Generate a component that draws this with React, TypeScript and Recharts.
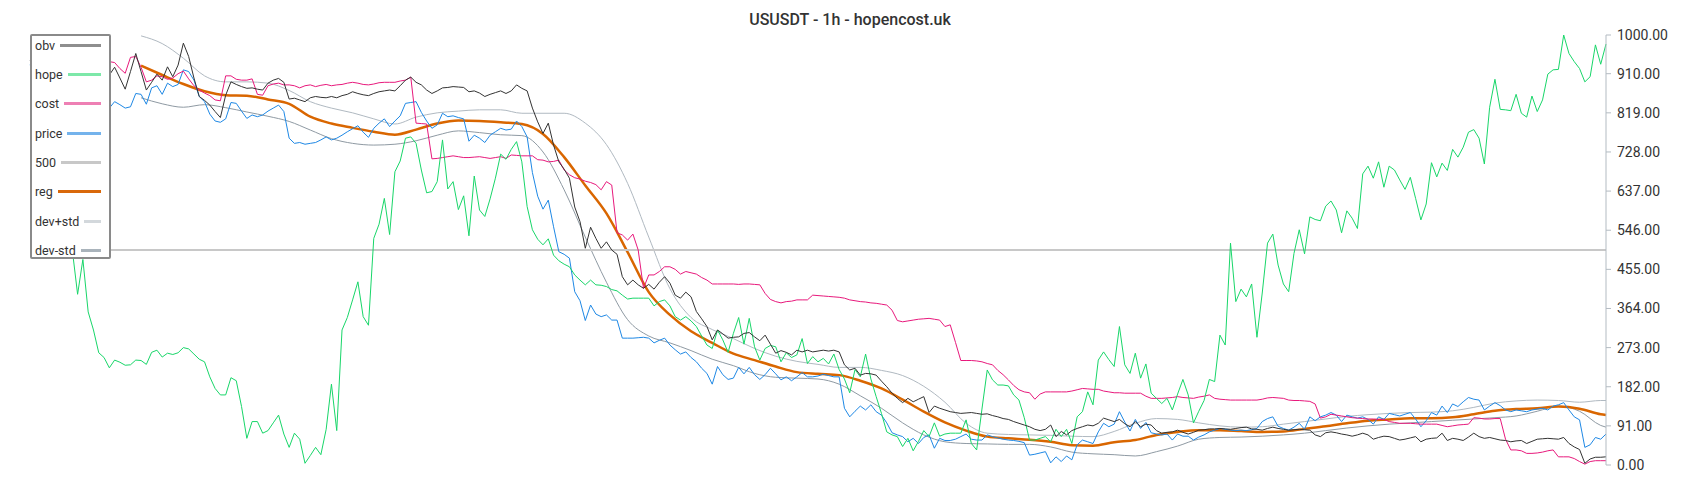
import { LineChart, Line, XAxis, YAxis, ReferenceLine } from 'recharts';

const TITLE = 'USUSDT - 1h - hopencost.uk';
const THRESHOLD = 500;
const yTicks = [0, 91, 182, 273, 364, 455, 546, 637, 728, 819, 910, 1000];

// one value per hourly bar
const obv = [
  940, 925, 945, 960, 930, 915, 940, 955, 925, 905,
  930, 950, 920, 895, 900, 907, 925, 900, 874, 915,
  957, 915, 872, 890, 909, 895, 926, 903, 930, 981,
  950, 900, 857, 848, 837, 822, 808, 860, 891, 885,
  880, 876, 877, 874, 872, 888, 895, 899, 890, 851,
  853, 849, 845, 854, 857, 855, 854, 857, 854, 859,
  862, 868, 864, 861, 859, 864, 868, 870, 872, 870,
  882, 895, 902, 890, 884, 872, 864, 870, 877, 878,
  880, 879, 878, 868, 870, 865, 857, 862, 866, 870,
  864, 870, 884, 876, 870, 830, 798, 771, 795, 744,
  705, 688, 667, 600, 566, 504, 553, 527, 504, 519,
  500, 490, 438, 419, 430, 419, 411, 420, 409, 425,
  438, 423, 395, 388, 402, 391, 357, 340, 322, 291,
  314, 305, 295, 297, 298, 306, 308, 298, 289, 302,
  281, 260, 266, 262, 256, 267, 263, 267, 263, 265,
  267, 265, 267, 263, 233, 221, 225, 209, 213, 212,
  209, 195, 182, 167, 155, 145, 155, 147, 153, 159,
  122, 137, 132, 128, 124, 122, 120, 121, 122, 120,
  118, 119, 115, 112, 108, 106, 101, 97, 93, 89,
  83, 80, 83, 93, 66, 78, 70, 80, 85, 89,
  93, 91, 97, 109, 105, 101, 106, 96, 89, 101,
  89, 95, 93, 80, 74, 76, 77, 81, 76, 72,
  76, 81, 82, 84, 84, 85, 84, 83, 85, 87,
  88, 84, 83, 81, 85, 88, 85, 83, 81, 82,
  83, 82, 81, 70, 66, 75, 77, 75, 72, 70,
  67, 70, 74, 70, 60, 64, 67, 66, 62, 58,
  60, 63, 66, 54, 60, 62, 63, 74, 57, 62,
  60, 57, 65, 74, 66, 62, 64, 61, 58, 57,
  54, 56, 57, 50, 55, 60, 61, 62, 61, 60,
  64, 50, 42, 36, 4, 14, 18, 18, 19,
];

const hope = [
  700, 690, 660, 640, 610, 590, 560, 540, 500, 397,
  478, 356, 314, 261, 250, 226, 244, 239, 232, 233,
  244, 243, 234, 262, 267, 251, 260, 257, 261, 273,
  270, 258, 246, 240, 205, 178, 163, 163, 203, 196,
  136, 62, 101, 101, 74, 80, 98, 116, 72, 41,
  74, 60, 4, 22, 41, 24, 83, 188, 80, 314,
  343, 384, 426, 345, 325, 527, 560, 620, 536, 682,
  707, 760, 763, 748, 686, 633, 636, 659, 756, 642,
  659, 594, 626, 533, 672, 593, 578, 619, 667, 723,
  711, 734, 752, 705, 601, 547, 525, 512, 526, 488,
  475, 467, 461, 442, 430, 419, 430, 419, 418, 415,
  408, 405, 395, 386, 388, 388, 388, 388, 370, 380,
  384, 370, 345, 337, 345, 335, 322, 300, 279, 271,
  314, 291, 262, 306, 343, 281, 341, 275, 244, 271,
  278, 275, 240, 261, 250, 256, 294, 236, 252, 240,
  248, 235, 258, 222, 200, 168, 222, 205, 258, 200,
  159, 120, 77, 70, 66, 43, 62, 33, 55, 80,
  66, 98, 67, 72, 74, 74, 74, 105, 50, 35,
  130, 221, 198, 186, 186, 184, 163, 151, 110, 58,
  58, 62, 66, 54, 83, 66, 83, 50, 112, 124,
  170, 140, 244, 263, 245, 229, 322, 233, 213, 260,
  202, 235, 167, 155, 143, 155, 128, 165, 199, 163,
  98, 125, 150, 199, 194, 302, 279, 516, 380, 409,
  391, 421, 297, 400, 516, 537, 465, 421, 403, 492,
  547, 491, 577, 571, 568, 602, 614, 593, 540, 591,
  574, 550, 677, 695, 667, 705, 646, 695, 686, 663,
  641, 669, 620, 570, 607, 703, 670, 702, 685, 734,
  716, 739, 774, 780, 760, 700, 832, 897, 827, 826,
  824, 862, 818, 809, 858, 822, 849, 909, 919, 920,
  1000, 957, 938, 922, 891, 903, 977, 932, 979,
];

const cost = [
  995, 1000, 985, 970, 960, 950, 945, 955, 950, 945,
  948, 952, 945, 940, 938, 938, 936, 922, 911, 948,
  950, 925, 891, 895, 905, 903, 897, 900, 910, 916,
  898, 882, 872, 865, 859, 849, 847, 905, 905, 897,
  895, 895, 898, 862, 860, 882, 886, 888, 884, 884,
  882, 877, 882, 884, 880, 883, 885, 882, 884, 885,
  888, 890, 888, 885, 884, 886, 889, 890, 890, 890,
  893, 895, 902, 795, 794, 793, 712, 713, 715, 717,
  719, 717, 715, 715, 716, 717, 715, 713, 715, 717,
  713, 721, 720, 719, 719, 719, 710, 709, 705, 706,
  709, 686, 675, 668, 665, 660, 657, 652, 640, 659,
  651, 540, 535, 523, 537, 500, 411, 442, 442, 450,
  461, 461, 455, 444, 450, 447, 444, 436, 430, 421,
  421, 421, 421, 421, 420, 421, 421, 420, 419, 399,
  385, 380, 377, 380, 381, 384, 384, 384, 395, 394,
  393, 392, 391, 390, 388, 384, 382, 380, 379, 377,
  376, 374, 372, 360, 336, 333, 335, 337, 339, 340,
  341, 339, 337, 322, 326, 285, 243, 243, 243, 242,
  240, 236, 233, 220, 210, 198, 185, 175, 170, 168,
  153, 165, 170, 170, 170, 170, 170, 172, 175, 178,
  177, 176, 176, 172, 170, 168, 168, 167, 167, 167,
  167, 160, 155, 155, 155, 156, 157, 159, 157, 156,
  155, 158, 160, 163, 155, 153, 152, 151, 151, 151,
  151, 151, 151, 153, 156, 157, 156, 155, 151, 150,
  150, 149, 148, 142, 109, 112, 118, 116, 114, 112,
  110, 109, 108, 107, 107, 106, 106, 101, 99, 97,
  97, 97, 96, 95, 95, 95, 95, 92, 89, 91,
  93, 94, 95, 110, 109, 107, 107, 108, 108, 60,
  35, 35, 33, 27, 27, 28, 30, 33, 35, 19,
  19, 19, 15, 8, 2, 8, 10, 10, 10,
];

const price = [
  930, 950, 940, 960, 975, 985, 995, 1000, 998, 1000,
  995, 960, 920, 880, 850, 830, 845, 838, 830, 833,
  864, 862, 839, 877, 882, 862, 888, 880, 885, 919,
  915, 895, 857, 845, 816, 800, 797, 805, 843, 841,
  823, 806, 814, 810, 814, 823, 830, 837, 822, 760,
  748, 750, 746, 748, 750, 756, 763, 756, 760, 767,
  775, 782, 789, 774, 762, 783, 795, 805, 787, 800,
  812, 841, 843, 845, 820, 800, 783, 791, 818, 810,
  812, 808, 805, 753, 767, 760, 750, 767, 775, 783,
  779, 781, 800, 787, 763, 680, 625, 595, 616, 554,
  496, 490, 481, 403, 382, 336, 372, 351, 345, 349,
  337, 337, 295, 295, 295, 296, 297, 295, 284, 290,
  295, 279, 268, 258, 263, 250, 240, 225, 213, 188,
  229, 210, 199, 202, 227, 212, 227, 210, 199, 210,
  225, 212, 198, 205, 196, 205, 215, 205, 205, 207,
  211, 208, 205, 205, 132, 112, 125, 137, 128, 140,
  124, 116, 98, 75, 70, 66, 54, 62, 50, 64,
  70, 39, 62, 57, 57, 60, 66, 72, 60, 58,
  58, 70, 66, 63, 60, 58, 57, 55, 52, 23,
  25, 28, 31, 5, 19, 8, 21, 12, 47, 58,
  54, 50, 77, 97, 89, 95, 124, 100, 79, 106,
  85, 99, 75, 72, 70, 72, 58, 72, 67, 67,
  58, 65, 70, 77, 81, 85, 83, 81, 80, 81,
  80, 82, 85, 101, 108, 112, 90, 85, 81, 88,
  97, 83, 112, 103, 112, 116, 122, 116, 101, 116,
  112, 109, 112, 106, 95, 112, 106, 120, 117, 114,
  118, 122, 107, 89, 103, 122, 116, 137, 122, 142,
  136, 147, 157, 153, 151, 128, 137, 145, 138, 128,
  124, 128, 126, 124, 128, 130, 132, 128, 137, 140,
  145, 128, 112, 105, 41, 47, 64, 60, 72,
];

// regression channel, read every 4th bar
const bandIdx = [
  21, 25, 29, 33, 37, 41, 45, 49, 53, 57,
  61, 65, 69, 73, 77, 81, 85, 89, 93, 97,
  101, 105, 109, 113, 117, 121, 125, 129, 133, 137,
  141, 145, 149, 153, 157, 161, 165, 169, 173, 177,
  181, 185, 189, 193, 197, 201, 205, 209, 213, 217,
  221, 225, 229, 233, 237, 241, 245, 249, 253, 257,
  261, 265, 269, 273, 277, 281, 285, 289, 293, 297,
  298,
];

const reg = [
  929, 907, 886, 869, 860, 859, 850, 840, 810, 794,
  784, 775, 768, 780, 794, 801, 800, 797, 793, 770,
  716, 650, 585, 495, 402, 349, 311, 284, 259, 244,
  229, 216, 212, 209, 196, 178, 152, 124, 99, 80,
  66, 62, 59, 54, 46, 45, 53, 58, 70, 77,
  81, 81, 79, 77, 78, 84, 90, 97, 103, 106,
  109, 109, 111, 118, 126, 130, 132, 136, 131, 118,
  116,
];

const devPlus = [
  998, 980, 946, 905, 891, 891, 888, 871, 845, 830,
  819, 805, 793, 809, 819, 823, 826, 826, 818, 818,
  818, 795, 745, 655, 530, 410, 343, 315, 294, 271,
  253, 241, 234, 227, 227, 220, 208, 183, 146, 97,
  74, 71, 70, 69, 67, 66, 78, 97, 108, 106,
  98, 91, 88, 89, 95, 101, 107, 113, 117, 120,
  122, 123, 126, 134, 144, 149, 151, 150, 146, 150,
  150,
];

const devMinus = [
  854, 840, 832, 838, 831, 821, 811, 799, 779, 759,
  748, 744, 746, 754, 767, 777, 773, 768, 766, 728,
  640, 530, 425, 338, 300, 284, 266, 246, 231, 213,
  204, 202, 200, 188, 161, 132, 98, 70, 54, 50,
  49, 48, 48, 42, 30, 26, 24, 21, 31, 44,
  60, 64, 65, 67, 70, 74, 80, 86, 91, 95,
  98, 101, 104, 107, 110, 114, 125, 137, 125, 92,
  88,
];

const rows: Record<string, number>[] = obv.map((v, i) => ({
  i,
  obv: v,
  hope: hope[i],
  cost: cost[i],
  price: price[i],
}));
bandIdx.forEach((idx, k) => {
  rows[idx].reg = reg[k];
  rows[idx].devPlus = devPlus[k];
  rows[idx].devMinus = devMinus[k];
});

const legendItems = [
  { label: 'obv', color: '#8e8e8e' },
  { label: 'hope', color: '#7de8a9' },
  { label: 'cost', color: '#ee80b4' },
  { label: 'price', color: '#74b3ec' },
  { label: '500', color: '#c8c8c8' },
  { label: 'reg', color: '#d9680a' },
  { label: 'dev+std', color: '#d3d8dc' },
  { label: 'dev-std', color: '#a9b3bb' },
];

const font = 'Roboto, "Noto Sans", sans-serif';

export default function App() {
  return (
    <div style={{ position: 'absolute', left: 0, top: 0, width: 1700, height: 500, background: '#fff', fontFamily: font }}>
      <div style={{ position: 'absolute', left: 0, top: 10, width: 1700, textAlign: 'center', fontSize: 16, lineHeight: '20px', fontWeight: 500, color: '#333' }}>
        {TITLE}
      </div>
      <LineChart width={1700} height={500} data={rows} margin={{ top: 35, right: 0, bottom: 35, left: 30 }}>
        <XAxis dataKey="i" type="number" domain={[0, 298]} hide />
        <YAxis
          orientation="right"
          width={94}
          domain={[0, 1000]}
          ticks={yTicks}
          interval={0}
          tickFormatter={(v: number) => v.toFixed(2)}
          stroke="#b3bbc2"
          tickSize={5}
          tickMargin={6}
          tick={{ fill: '#333', fontSize: 14, fontFamily: font }}
        />
        <Line dataKey="devMinus" type="monotone" connectNulls stroke="#8f9aa3" strokeWidth={1} dot={false} isAnimationActive={false} />
        <Line dataKey="devPlus" type="monotone" connectNulls stroke="#b0b9c1" strokeWidth={1} dot={false} isAnimationActive={false} />
        <Line dataKey="reg" type="monotone" connectNulls stroke="#d96600" strokeWidth={2.5} dot={false} isAnimationActive={false} />
        <ReferenceLine y={THRESHOLD} stroke="#c8c8c8" strokeWidth={2} />
        <Line dataKey="price" type="linear" stroke="#1e88e5" strokeWidth={1} dot={false} isAnimationActive={false} />
        <Line dataKey="cost" type="linear" stroke="#e8197c" strokeWidth={1} dot={false} isAnimationActive={false} />
        <Line dataKey="hope" type="linear" stroke="#18d669" strokeWidth={1} dot={false} isAnimationActive={false} />
        <Line dataKey="obv" type="linear" stroke="#333" strokeWidth={1} dot={false} isAnimationActive={false} />
      </LineChart>
      <div
        style={{
          position: 'absolute',
          left: 30,
          top: 34,
          width: 66,
          height: 221,
          border: '2px solid #8a8a8a',
          borderRadius: 2,
          background: '#fff',
          paddingLeft: 3,
          paddingRight: 8,
          boxSizing: 'content-box',
        }}
      >
        {legendItems.map((it) => (
          <div key={it.label} style={{ display: 'flex', alignItems: 'flex-start', height: 29.4 }}>
            <div style={{ display: 'flex', alignItems: 'center', height: 18, width: '100%' }}>
              <span style={{ fontSize: 12.5, color: '#333', whiteSpace: 'nowrap' }}>{it.label}</span>
              <span style={{ flex: 1, height: 3, marginLeft: 5, background: it.color }} />
            </div>
          </div>
        ))}
      </div>
    </div>
  );
}
